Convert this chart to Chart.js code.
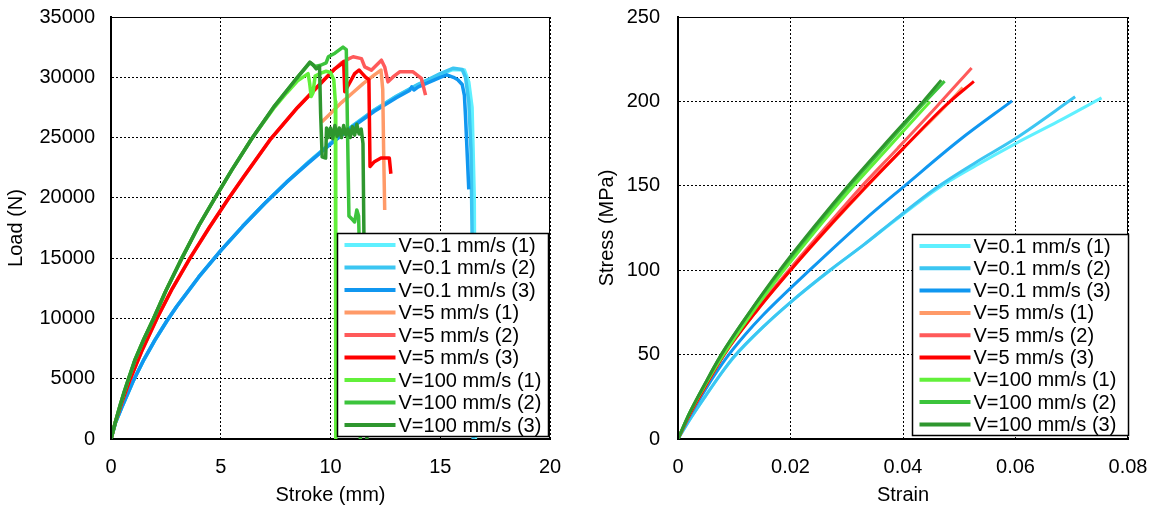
<!DOCTYPE html>
<html>
<head>
<meta charset="utf-8">
<script src="https://cdn.jsdelivr.net/npm/chart.js@4"></script>
<style>
  body { margin: 0; background: #fff; }
  .wrap { position: absolute; top: 0; width: 578px; height: 511px; }
  #left { left: 0; }
  #right { left: 578px; }
</style>
</head>
<body>
<div class="wrap" id="left"><canvas id="loadChart" width="578" height="511"></canvas></div>
<div class="wrap" id="right"><canvas id="stressChart" width="578" height="511"></canvas></div>
<script>
// series names and colours (same order in both charts)
const seriesLabels = [
  "V=0.1 mm/s (1)", "V=0.1 mm/s (2)", "V=0.1 mm/s (3)",
  "V=5 mm/s (1)", "V=5 mm/s (2)", "V=5 mm/s (3)",
  "V=100 mm/s (1)", "V=100 mm/s (2)", "V=100 mm/s (3)",
];
const seriesColors = [
  "#5ff0ff", "#3cc6f2", "#1097f0",
  "#ff9a68", "#ff5a5a", "#ff0000",
  "#62f03a", "#3cc43c", "#2e962e",
];

// Load (N) vs Stroke (mm)
const loadV01_1 = [[0,0],[0.2,1330],[0.5,2670],[1.0,4770],[1.5,6590],[2.0,8200],[2.55,9810],[3.0,11010],[4.0,13440],[5.0,15620],[6.0,17640],[7.0,19530],[8.0,21300],[9.0,22970],[10.0,24530],[11.0,25970],[12.0,27290],[13.0,28430],[14.0,29420],[15.0,30250],[15.6,30650],[16.1,30600],[16.3,29600],[16.45,27500],[16.55,20000],[16.6,0]];
const loadV01_2 = [[0,0],[0.2,1330],[0.5,2670],[1.0,4770],[1.5,6590],[2.0,8200],[2.55,9810],[3.0,11010],[4.0,13440],[5.0,15620],[6.0,17640],[7.0,19530],[8.0,21300],[9.0,22970],[10.0,24530],[11.0,25970],[12.0,27290],[13.0,28430],[14.0,29420],[14.5,29850],[15.0,30300],[15.6,30750],[16.0,30650],[16.15,30000],[16.3,28000],[16.4,24000],[16.45,17000],[16.5,0]];
const loadV01_3 = [[0,0],[0.2,1330],[0.5,2670],[1.0,4770],[1.5,6590],[2.0,8200],[2.55,9810],[3.0,11010],[4.0,13440],[5.0,15620],[6.0,17640],[7.0,19530],[8.0,21300],[9.0,22900],[10.0,24450],[11.0,25880],[12.0,27180],[13.0,28300],[13.6,28900],[13.7,29200],[13.8,28950],[14.0,29200],[14.5,29600],[15.0,30000],[15.3,30200],[15.6,30000],[15.8,29800],[16.0,29400],[16.1,28500],[16.15,26800],[16.3,20700]];
const loadV5_1 = [[9.6,26300],[10.0,27000],[10.5,27900],[11.0,28700],[11.5,29500],[12.0,30200],[12.3,30600],[12.38,29000],[12.42,24000],[12.47,19000]];
const loadV5_2 = [[0,0],[0.2,1400],[0.5,3100],[0.88,5000],[1.4,7300],[2.09,10000],[2.8,12500],[3.6,15000],[4.5,17600],[5.3,19800],[6.03,21700],[7.24,24800],[8.5,27500],[9.82,30000],[10.2,30700],[10.5,31200],[10.8,31500],[11.03,31700],[11.41,31550],[11.56,30860],[11.86,30590],[12.32,31420],[12.47,30860],[12.62,29620],[12.85,30030],[13.15,30450],[13.76,30450],[14.14,29900],[14.33,28520]];
const loadV5_3 = [[0,0],[0.2,1400],[0.5,3100],[0.88,5000],[1.4,7300],[2.09,10000],[2.8,12500],[3.6,15000],[4.5,17600],[5.3,19800],[6.03,21700],[7.24,24800],[8.5,27500],[9.82,30000],[10.2,30700],[10.5,31100],[10.6,31300],[10.65,28800],[10.8,29300],[11.1,30300],[11.3,30600],[11.45,30300],[11.6,30000],[11.75,29800],[11.8,22600],[12.0,23000],[12.3,23300],[12.68,23300],[12.75,22000]];
const loadV100_1 = [[0,0],[0.2,1400],[0.4,2700],[0.6,3900],[0.8,5000],[1.1,6600],[1.5,8300],[1.94,10000],[2.5,12300],[3.23,15000],[4.0,17700],[4.74,20000],[5.5,22300],[6.41,24900],[7.4,27400],[8.0,28700],[8.5,29700],[8.98,30300],[9.05,29500],[9.12,28400],[9.2,28700],[9.3,30100],[9.5,30300],[9.8,30500],[10.0,30400],[10.15,29800],[10.22,28000],[10.24,0]];
const loadV100_2 = [[0,0],[0.2,1400],[0.4,2700],[0.6,3900],[0.8,5000],[1.1,6600],[1.5,8300],[1.94,10000],[2.5,12300],[3.23,15000],[4.0,17700],[4.74,20000],[5.5,22300],[6.41,24900],[7.4,27500],[8.45,29900],[9.06,31200],[9.3,30900],[9.55,31000],[9.8,31200],[9.9,31700],[10.2,32000],[10.57,32500],[10.72,32300],[10.78,25000],[10.84,18500],[11.0,18200],[11.1,18000],[11.2,19000],[11.28,18500],[11.3,17000],[11.36,0]];
const loadV100_3 = [[0,0],[0.2,1400],[0.4,2700],[0.6,3900],[0.8,5000],[1.1,6600],[1.5,8300],[1.94,10000],[2.5,12300],[3.23,15000],[4.0,17700],[4.74,20000],[5.5,22300],[6.41,24900],[7.4,27500],[8.45,29900],[9.06,31250],[9.2,31050],[9.35,30700],[9.5,30900],[9.55,27000],[9.62,23400],[9.78,23300],[9.82,25800],[9.9,25000],[10.0,25800],[10.1,24900],[10.2,26000],[10.3,25100],[10.4,25800],[10.5,25000],[10.6,26000],[10.7,25200],[10.8,25700],[10.9,25000],[11.0,25900],[11.1,25200],[11.2,26100],[11.3,25300],[11.4,25700],[11.48,24500],[11.55,12000],[11.66,0]];

// Stress (MPa) vs Strain
const stressV01_1 = [[0,0],[0.002,11],[0.005,26],[0.0075,38],[0.0101,49],[0.015,66],[0.02,81],[0.0271,100],[0.033,115],[0.0388,130],[0.046,148],[0.053,162],[0.06,175],[0.0675,188],[0.0753,202.1]];
const stressV01_2 = [[0,0],[0.002,11],[0.005,26],[0.0075,38],[0.01,49],[0.015,66],[0.02,81],[0.027,100],[0.033,115],[0.0386,130],[0.046,149],[0.053,164],[0.06,178],[0.0706,202.7]];
const stressV01_3 = [[0,0],[0.002,13],[0.005,30],[0.0086,48],[0.012,62],[0.015,73],[0.0234,100],[0.0332,130],[0.0403,150],[0.05,177],[0.0594,200.3]];
const stressV5_1 = [[0,0],[0.002,14],[0.005,32],[0.0082,50],[0.014,76],[0.02,100],[0.0278,129],[0.0328,147],[0.04,172],[0.0475,197],[0.0506,208.2]];
const stressV5_2 = [[0,0],[0.002,14],[0.005,32],[0.0081,50],[0.014,77],[0.0197,100],[0.0272,129],[0.0322,148],[0.039,172],[0.046,197],[0.0522,219.8]];
const stressV5_3 = [[0,0],[0.002,14],[0.005,32],[0.0082,50],[0.014,76],[0.02,100],[0.0277,129],[0.033,148],[0.04,172],[0.0477,198],[0.0526,211.9]];
const stressV100_1 = [[0,0],[0.002,15],[0.005,33],[0.0079,49],[0.0128,73],[0.0186,99],[0.0256,128],[0.0307,148],[0.0375,173],[0.0448,199.8]];
const stressV100_2 = [[0,0],[0.002,15],[0.005,34],[0.0077,50],[0.0125,74],[0.0183,100],[0.0253,129],[0.0303,149],[0.037,174],[0.044,200],[0.0474,212]];
const stressV100_3 = [[0,0],[0.002,15],[0.005,34],[0.0077,50],[0.0125,74],[0.0181,100],[0.025,129],[0.03,149],[0.0366,174],[0.0436,200],[0.0468,212.6]];

const loadSeries = [loadV01_1, loadV01_2, loadV01_3, loadV5_1, loadV5_2, loadV5_3, loadV100_1, loadV100_2, loadV100_3];
const stressSeries = [stressV01_1, stressV01_2, stressV01_3, stressV5_1, stressV5_2, stressV5_3, stressV100_1, stressV100_2, stressV100_3];

Chart.defaults.font.family = "'Liberation Sans', Arial, sans-serif";
Chart.defaults.font.size = 20;
Chart.defaults.color = "#000";

// solid frame round the plot area
const frame = {
  id: "frame",
  afterDatasetsDraw(chart) {
    const { ctx, chartArea: a } = chart;
    ctx.save();
    ctx.strokeStyle = "#000";
    ctx.lineWidth = 1;
    ctx.strokeRect(a.left + 0.5, a.top + 0.5, a.right - a.left - 1, a.bottom - a.top);
    ctx.restore();
  },
};

// boxed legend sitting in the lower right of the plot area
const boxLegend = {
  id: "boxLegend",
  afterDraw(chart, args, opts) {
    const { ctx, chartArea: a } = chart;
    const x = Math.round(a.right - opts.right - opts.width) + 0.5;
    const y = Math.round(a.bottom - opts.bottom - opts.height) + 0.5;
    ctx.save();
    ctx.fillStyle = "#fff";
    ctx.fillRect(x, y, opts.width, opts.height);
    ctx.strokeStyle = "#000";
    ctx.lineWidth = 1.5;
    ctx.strokeRect(x, y, opts.width, opts.height);
    ctx.font = "20px 'Liberation Sans', Arial, sans-serif";
    ctx.textBaseline = "middle";
    chart.data.datasets.forEach((ds, i) => {
      const cy = y + 11.5 + i * opts.row;
      ctx.strokeStyle = ds.borderColor;
      ctx.lineWidth = 4;
      ctx.beginPath();
      ctx.moveTo(x + 7, cy);
      ctx.lineTo(x + 58, cy);
      ctx.stroke();
      ctx.fillStyle = "#000";
      ctx.fillText(ds.label, x + 61, cy + 1);
    });
    ctx.restore();
  },
};

function makeDatasets(series, width, smooth) {
  return series.map((pts, i) => ({
    label: seriesLabels[i],
    data: pts.map((p) => ({ x: p[0], y: p[1] })),
    borderColor: seriesColors[i],
    backgroundColor: seriesColors[i],
    borderWidth: width,
    pointRadius: 0,
    fill: false,
    cubicInterpolationMode: smooth ? "monotone" : "default",
    tension: 0,
    borderJoinStyle: "round",
    order: series.length - i,
  }));
}

function axis(min, max, step, title, fmt, extra) {
  return Object.assign({
    type: "linear",
    min: min,
    max: max,
    grid: { color: "#000", lineWidth: 1, drawTicks: false },
    border: { display: true, color: "#000", width: 2, dash: [2, 2] },
    ticks: { stepSize: step, callback: fmt, padding: 16 },
    title: { display: true, text: title, font: { size: 20 } },
  }, extra);
}

// fixed axis sizes so the plot area lands where the original has it
function fixX(s) {
  s.height = 72;
  s.paddingLeft = 0;
  s.paddingRight = 0;
}
function fixY(width) {
  return (s) => {
    s.width = width;
    s.paddingTop = 0;
    s.paddingBottom = 0;
  };
}

function createLoadChart() {
  const ctx = document.getElementById("loadChart").getContext("2d");
  new Chart(ctx, {
    type: "line",
    data: { datasets: makeDatasets(loadSeries, 3.5, false) },
    options: {
      responsive: false,
      animation: false,
      layout: { padding: { top: 17, right: 28, left: 0, bottom: 0 } },
      plugins: {
        legend: { display: false },
        tooltip: { enabled: false },
        boxLegend: { width: 211, height: 203, right: 2, bottom: 3, row: 22.5 },
      },
      scales: {
        x: axis(0, 20, 5, "Stroke (mm)", (v) => String(v), { afterFit: fixX }),
        y: axis(0, 35000, 5000, "Load (N)", (v) => String(v), { afterFit: fixY(111) }),
      },
    },
    plugins: [frame, boxLegend],
  });
}

function createStressChart() {
  const ctx = document.getElementById("stressChart").getContext("2d");
  const yAxis = axis(0, 250, 50, "Stress (MPa)", (v) => String(v), { afterFit: fixY(100) });
  yAxis.ticks.padding = 18;
  yAxis.title.padding = { top: 17, bottom: 4 };
  new Chart(ctx, {
    type: "line",
    data: { datasets: makeDatasets(stressSeries, 3, true) },
    options: {
      responsive: false,
      animation: false,
      layout: { padding: { top: 17, right: 28, left: 0, bottom: 0 } },
      plugins: {
        legend: { display: false },
        tooltip: { enabled: false },
        boxLegend: { width: 216, height: 201, right: 0, bottom: 4, row: 22.3 },
      },
      scales: {
        x: axis(0, 0.08, 0.02, "Strain", (v) => String(+v.toFixed(2)), { afterFit: fixX }),
        y: yAxis,
      },
    },
    plugins: [frame, boxLegend],
  });
}

createLoadChart();
createStressChart();
</script>
</body>
</html>
